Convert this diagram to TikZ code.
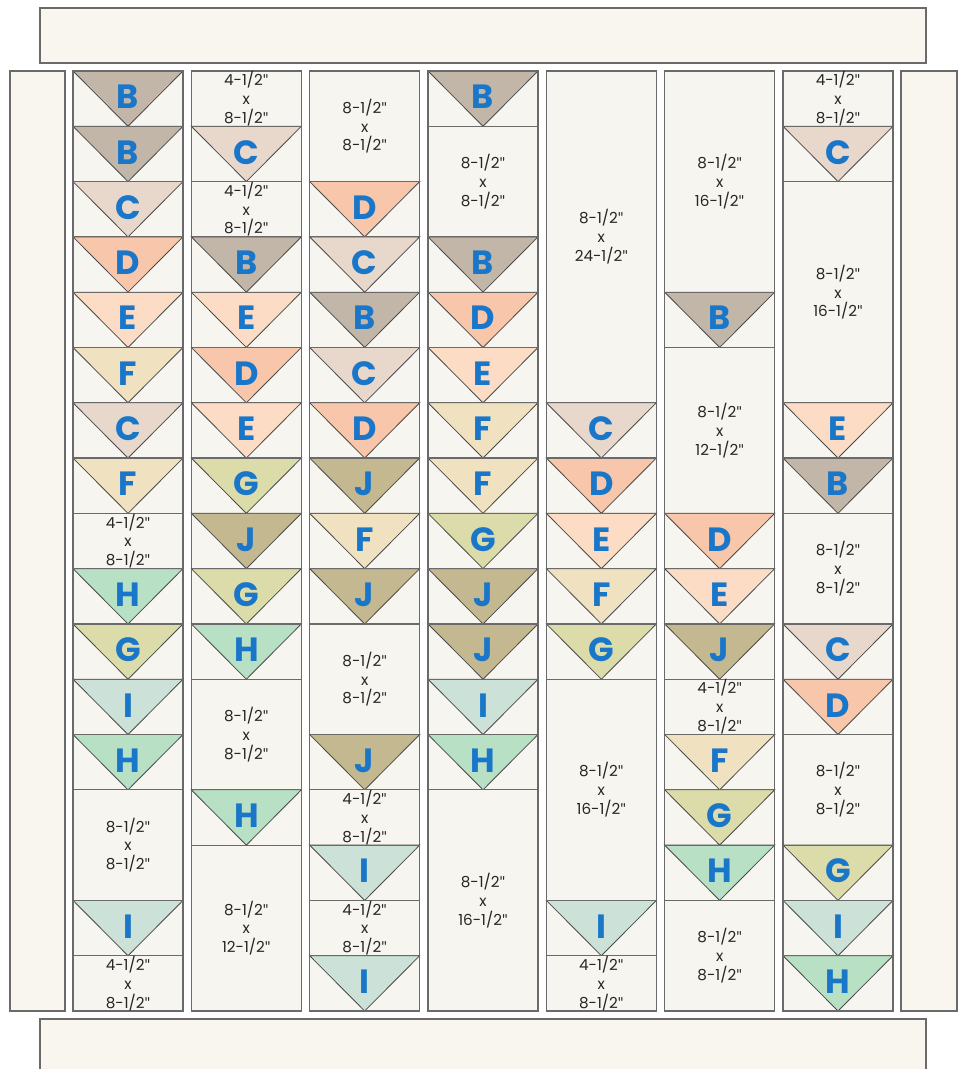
\documentclass[tikz,border=0pt]{standalone}
\usepackage{fontspec}
\setmainfont{Poppins}
\newfontfamily\quotefont{Lato}
\definecolor{bgcell}{HTML}{F7F5EF}
\definecolor{strip}{HTML}{F8F6EE}
\definecolor{edge}{HTML}{6A6A6A}
\definecolor{tedge}{HTML}{4A4A4A}
\definecolor{letterblue}{HTML}{1A76C8}
\definecolor{cB}{HTML}{C2B6A8}
\definecolor{cC}{HTML}{E8D8CC}
\definecolor{cD}{HTML}{F8C6AA}
\definecolor{cE}{HTML}{FCDCC4}
\definecolor{cF}{HTML}{F0E2C0}
\definecolor{cG}{HTML}{DCDCAA}
\definecolor{cH}{HTML}{B8E0C4}
\definecolor{cI}{HTML}{CCE2D8}
\definecolor{cJ}{HTML}{C4B890}
\newcommand\qq{{\quotefont\char"0022}}
\newcommand\qtri[3]{%
  \pgfmathsetmacro\ax{73+118.333*#1}\pgfmathsetmacro\ay{71+55.294*#2}%
  \pgfmathsetmacro\bx{\ax+110}\pgfmathsetmacro\by{\ay+55.294}\pgfmathsetmacro\mx{\ax+55}%
  \pgfmathsetmacro\ly{\ay+26}%
  \fill[bgcell] (\ax,\ay) rectangle (\bx,\by);
  \draw[triline, fill=c#3] (\ax,\ay) -- (\bx,\ay) -- (\mx,\by) -- cycle;
  \draw[cellline] (\ax,\ay) rectangle (\bx,\by);
  \node[letter] (t#1r#2) at (\mx,\ly) {#3};
}
\newcommand\qblk[5]{%
  \pgfmathsetmacro\ax{73+118.333*#1}\pgfmathsetmacro\ay{71+55.294*#2}%
  \pgfmathsetmacro\bx{\ax+110}\pgfmathsetmacro\by{\ay+55.294*#3}\pgfmathsetmacro\mx{\ax+55}%
  \pgfmathsetmacro\my{(\ay+\by)/2}%
  \draw[cellline, fill=bgcell] (\ax,\ay) rectangle (\bx,\by);
  \node[dim] (b#1r#2) at (\mx,\my) {#4\qq\\x\\#5\qq};
}
\begin{document}
\begin{tikzpicture}[x=0.5pt,y=-0.5pt,
  cellline/.style={draw=edge, line width=0.6pt},
  triline/.style={draw=tedge, line width=0.4pt},
  letter/.style={text=letterblue, font=\fontsize{16.8}{18}\selectfont\bfseries, inner sep=0pt},
  dim/.style={text=black!85, font=\fontsize{7.6}{9.4}\selectfont, align=center, inner sep=0pt},
  stripbox/.style={draw=edge, line width=0.6pt, fill=strip}]
\useasboundingbox (0,0) rectangle (959,1069);
\fill[white] (0,0) rectangle (959,1069);
% borders
\draw[stripbox] (40,8) rectangle (926,63);
\fill[strip] (40,1019) rectangle (926,1069);
\draw[cellline] (40,1069) -- (40,1019) -- (926,1019) -- (926,1069);
\draw[stripbox] (10,71) rectangle (65,1011);
\draw[stripbox] (901,71) rectangle (957,1011);
% column 0
\qtri{0}{0}{B}\qtri{0}{1}{B}\qtri{0}{2}{C}\qtri{0}{3}{D}\qtri{0}{4}{E}\qtri{0}{5}{F}\qtri{0}{6}{C}\qtri{0}{7}{F}
\qblk{0}{8}{1}{4-1/2}{8-1/2}
\qtri{0}{9}{H}\qtri{0}{10}{G}\qtri{0}{11}{I}\qtri{0}{12}{H}
\qblk{0}{13}{2}{8-1/2}{8-1/2}
\qtri{0}{15}{I}
\qblk{0}{16}{1}{4-1/2}{8-1/2}
% column 1
\qblk{1}{0}{1}{4-1/2}{8-1/2}
\qtri{1}{1}{C}
\qblk{1}{2}{1}{4-1/2}{8-1/2}
\qtri{1}{3}{B}\qtri{1}{4}{E}\qtri{1}{5}{D}\qtri{1}{6}{E}\qtri{1}{7}{G}\qtri{1}{8}{J}\qtri{1}{9}{G}\qtri{1}{10}{H}
\qblk{1}{11}{2}{8-1/2}{8-1/2}
\qtri{1}{13}{H}
\qblk{1}{14}{3}{8-1/2}{12-1/2}
% column 2
\qblk{2}{0}{2}{8-1/2}{8-1/2}
\qtri{2}{2}{D}\qtri{2}{3}{C}\qtri{2}{4}{B}\qtri{2}{5}{C}\qtri{2}{6}{D}\qtri{2}{7}{J}\qtri{2}{8}{F}\qtri{2}{9}{J}
\qblk{2}{10}{2}{8-1/2}{8-1/2}
\qtri{2}{12}{J}
\qblk{2}{13}{1}{4-1/2}{8-1/2}
\qtri{2}{14}{I}
\qblk{2}{15}{1}{4-1/2}{8-1/2}
\qtri{2}{16}{I}
% column 3
\qtri{3}{0}{B}
\qblk{3}{1}{2}{8-1/2}{8-1/2}
\qtri{3}{3}{B}\qtri{3}{4}{D}\qtri{3}{5}{E}\qtri{3}{6}{F}\qtri{3}{7}{F}\qtri{3}{8}{G}\qtri{3}{9}{J}\qtri{3}{10}{J}\qtri{3}{11}{I}\qtri{3}{12}{H}
\qblk{3}{13}{4}{8-1/2}{16-1/2}
% column 4
\qblk{4}{0}{6}{8-1/2}{24-1/2}
\qtri{4}{6}{C}\qtri{4}{7}{D}\qtri{4}{8}{E}\qtri{4}{9}{F}\qtri{4}{10}{G}
\qblk{4}{11}{4}{8-1/2}{16-1/2}
\qtri{4}{15}{I}
\qblk{4}{16}{1}{4-1/2}{8-1/2}
% column 5
\qblk{5}{0}{4}{8-1/2}{16-1/2}
\qtri{5}{4}{B}
\qblk{5}{5}{3}{8-1/2}{12-1/2}
\qtri{5}{8}{D}\qtri{5}{9}{E}\qtri{5}{10}{J}
\qblk{5}{11}{1}{4-1/2}{8-1/2}
\qtri{5}{12}{F}\qtri{5}{13}{G}\qtri{5}{14}{H}
\qblk{5}{15}{2}{8-1/2}{8-1/2}
% column 6
\qblk{6}{0}{1}{4-1/2}{8-1/2}
\qtri{6}{1}{C}
\qblk{6}{2}{4}{8-1/2}{16-1/2}
\qtri{6}{6}{E}\qtri{6}{7}{B}
\qblk{6}{8}{2}{8-1/2}{8-1/2}
\qtri{6}{10}{C}\qtri{6}{11}{D}
\qblk{6}{12}{2}{8-1/2}{8-1/2}
\qtri{6}{14}{G}\qtri{6}{15}{I}\qtri{6}{16}{H}
\end{tikzpicture}
\end{document}
